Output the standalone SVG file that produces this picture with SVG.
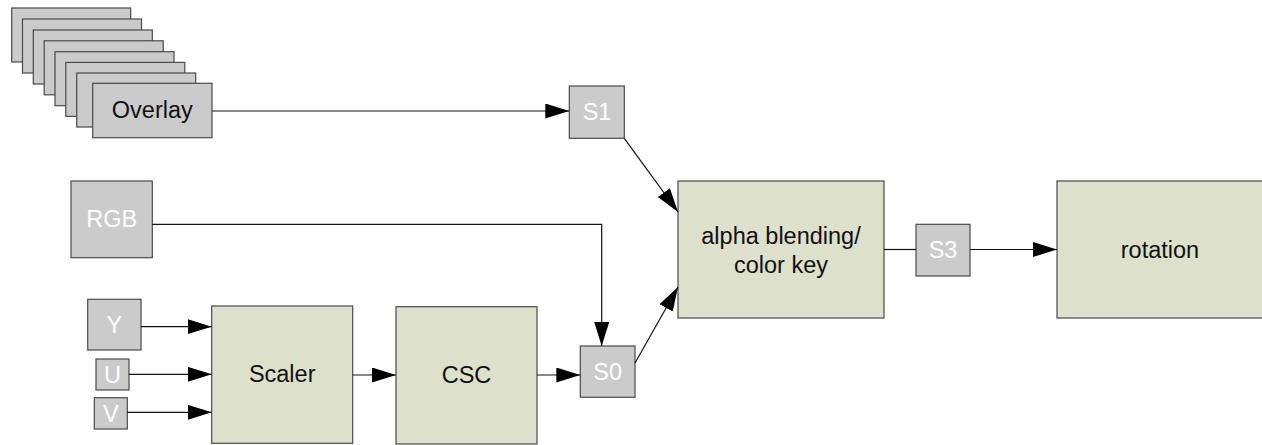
<svg xmlns="http://www.w3.org/2000/svg" width="1262" height="445" viewBox="0 0 1262 445">
<style>
.g{fill:#cbcbcb;stroke:#4a4a4a;stroke-width:1.2}
.gr{fill:#dde0cb;stroke:#4a4a4a;stroke-width:1.2}
.tw{font-family:"Liberation Sans",Arial,sans-serif;font-size:23.5px;fill:#ffffff;text-anchor:middle}
.tb{font-family:"Liberation Sans",Arial,sans-serif;font-size:23.5px;fill:#111111;text-anchor:middle}
.c{fill:none;stroke:#111;stroke-width:1.2}
</style>
<defs>
<marker id="ah" markerUnits="userSpaceOnUse" markerWidth="25" markerHeight="16" refX="24" refY="7.5" orient="auto">
<path d="M0,0 L24,7.5 L0,15 z" fill="#000"/>
</marker>
</defs>
<rect width="1262" height="445" fill="#ffffff"/>
<g id="overlay">
<rect class="g" x="11.7" y="8" width="119" height="54"/>
<rect class="g" x="22.5" y="19" width="119" height="54"/>
<rect class="g" x="33.3" y="30" width="119" height="54"/>
<rect class="g" x="44.2" y="40.8" width="119" height="54"/>
<rect class="g" x="55" y="51.7" width="119" height="54"/>
<rect class="g" x="65.8" y="62.4" width="119" height="54"/>
<rect class="g" x="76.7" y="73" width="119" height="54"/>
<rect class="g" x="92.7" y="83.3" width="119.3" height="54.4"/>
<text class="tb" x="152.3" y="117.7">Overlay</text>
</g>
<g id="s1">
<rect class="g" x="569.3" y="86" width="55" height="52.3"/>
<text class="tw" x="597" y="120">S1</text>
</g>
<g id="rgb">
<rect class="g" x="71" y="181" width="81.3" height="76.7"/>
<text class="tw" x="111.7" y="227">RGB</text>
</g>
<g id="y">
<rect class="g" x="87.7" y="299.3" width="53.3" height="50.7"/>
<text class="tw" x="114.3" y="333">Y</text>
</g>
<g id="u">
<rect class="g" x="96" y="359" width="33" height="31"/>
<text class="tw" x="112.5" y="382.5">U</text>
</g>
<g id="v">
<rect class="g" x="94.3" y="397.7" width="33" height="31.3"/>
<text class="tw" x="110.8" y="421.5">V</text>
</g>
<g id="scaler">
<rect class="gr" x="211.7" y="306" width="141" height="137.3"/>
<text class="tb" x="282.2" y="381.7">Scaler</text>
</g>
<g id="csc">
<rect class="gr" x="396" y="306.7" width="141" height="137.3"/>
<text class="tb" x="466.5" y="383">CSC</text>
</g>
<g id="s0">
<rect class="g" x="580.3" y="346" width="54.7" height="51.3"/>
<text class="tw" x="607.7" y="380">S0</text>
</g>
<g id="alpha">
<rect class="gr" x="678" y="181" width="206" height="137"/>
<text class="tb" x="781" y="243.5">alpha blending/</text>
<text class="tb" x="781" y="273">color key</text>
</g>
<g id="s3">
<rect class="g" x="916" y="224.3" width="54" height="51.7"/>
<text class="tw" x="943" y="258">S3</text>
</g>
<g id="rotation">
<rect class="gr" x="1057" y="181" width="220" height="137"/>
<text class="tb" x="1160" y="257.5">rotation</text>
</g>
<g id="connectors">
<path class="c" d="M212,111 L569.3,111" marker-end="url(#ah)"/>
<path class="c" d="M624.3,138.3 L678,212" marker-end="url(#ah)"/>
<path class="c" d="M152.3,224.3 L601.7,224.3 L601.7,346" marker-end="url(#ah)"/>
<path class="c" d="M141,326.7 L211.7,326.7" marker-end="url(#ah)"/>
<path class="c" d="M129,374.3 L211.7,374.3" marker-end="url(#ah)"/>
<path class="c" d="M127.3,412.3 L211.7,412.3" marker-end="url(#ah)"/>
<path class="c" d="M352.7,375 L396,375" marker-end="url(#ah)"/>
<path class="c" d="M537,375 L580.3,375" marker-end="url(#ah)"/>
<path class="c" d="M635,363 L678,287" marker-end="url(#ah)"/>
<path class="c" d="M884,249.5 L916,249.5"/>
<path class="c" d="M970,249.5 L1057,249.5" marker-end="url(#ah)"/>
</g>
</svg>
